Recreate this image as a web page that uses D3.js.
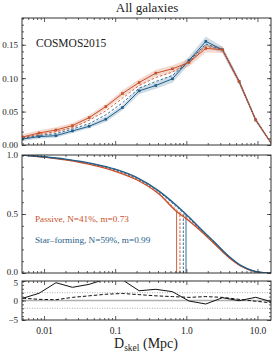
<!DOCTYPE html>
<html>
<head>
<meta charset="utf-8">
<script src="https://cdn.jsdelivr.net/npm/d3@7"></script>
<style>
  body { margin: 0; background: #fff; }
  text { font-family: "Liberation Serif", "Times New Roman", serif; fill: #222; }
</style>
</head>
<body>
<div id="chart"></div>
<script>
// Distance bins (Mpc)
const dskel = [0.005, 0.0085, 0.0147, 0.0251, 0.0431, 0.0738, 0.1265, 0.217, 0.372, 0.638, 1.09, 1.88, 3.22, 5.52, 9.46, 16.2];

// Top panel: fraction per bin
const passiveFrac = [0.012, 0.018, 0.0225, 0.029, 0.041, 0.0575, 0.077, 0.0935, 0.1075, 0.114, 0.1235, 0.1445, 0.1425, 0.095, 0.0375, 0.0];
const starFrac    = [0.009, 0.0125, 0.014, 0.021, 0.028, 0.0385, 0.056, 0.081, 0.089, 0.099, 0.1265, 0.155, 0.1425, 0.095, 0.0375, 0.0];
const passiveErr  = [0.004, 0.004, 0.004, 0.004, 0.004, 0.004, 0.005, 0.005, 0.005, 0.005, 0.006, 0.006, 0.005, 0.004, 0.003, 0.002];
const starErr     = [0.003, 0.003, 0.003, 0.003, 0.003, 0.004, 0.004, 0.005, 0.005, 0.006, 0.006, 0.007, 0.005, 0.004, 0.003, 0.002];
const passiveAlt  = [0.011, 0.016, 0.020, 0.026, 0.037, 0.051, 0.070, 0.089, 0.101, 0.109, 0.1245, 0.148, 0.1425, 0.095, 0.0375, 0.0];
const starAlt     = [0.010, 0.014, 0.017, 0.024, 0.032, 0.045, 0.063, 0.085, 0.095, 0.104, 0.1255, 0.151, 0.1425, 0.095, 0.0375, 0.0];

// Middle panel: cumulative fraction beyond D
const cumD        = [0.0049, 0.01, 0.02, 0.05, 0.1, 0.2, 0.4, 0.75, 1.0, 1.5, 2.5, 4, 6, 9, 12, 15.5];
const cumStar     = [1.0, 0.985, 0.965, 0.925, 0.88, 0.81, 0.70, 0.565, 0.495, 0.39, 0.26, 0.14, 0.06, 0.015, 0.003, 0];
const cumPassive  = [1.0, 0.982, 0.958, 0.912, 0.862, 0.79, 0.675, 0.515, 0.46, 0.37, 0.245, 0.13, 0.055, 0.013, 0.002, 0];
const cumStarAlt  = [1.0, 0.984, 0.963, 0.921, 0.875, 0.804, 0.694, 0.553, 0.486, 0.385, 0.256, 0.137, 0.058, 0.014, 0.003, 0];
const cumPassAlt  = [1.0, 0.983, 0.960, 0.916, 0.868, 0.797, 0.683, 0.528, 0.470, 0.376, 0.249, 0.133, 0.056, 0.014, 0.002, 0];
const medians     = [0.73, 0.99];
const mediansAlt  = [0.815, 0.908];

// Bottom panel: significance
const sigSolid  = [0.56, 1.85, 4.56, 3.38, 4.15, 5.5, 5.3, 2.5, 2.87, 2.26, -0.13, -0.9, 0.72, -0.05, 0.82, -0.38];
const sigDashed = [0.6, 0.3, 0.2, 0.8, 1.2, 1.6, 1.8, 1.5, 1.2, 1.0, 0.8, 1.0, 0.8, 0.3, -0.2, -0.6];

// Ticks
const xMajor = [0.01, 0.1, 1, 10];
const xLabels = ["0.01", "0.1", "1.0", "10.0"];
const yTopTicks = [0, 0.05, 0.10, 0.15];
const yMidTicks = [0, 0.5, 1.0];
const yBotTicks = [-5, 0, 5];

const orange = "#c8502a", blue = "#1f5e8a";

const svg = d3.select("#chart").append("svg")
    .attr("width", 273).attr("height", 354);

const x = d3.scaleLog().domain([0.0049, 15.5]).range([22, 271]);
const xMinor = [];
[0.001, 0.01, 0.1, 1, 10].forEach(d => {
    for (let m = 2; m <= 9; m++) {
        const v = d * m;
        if (v > x.domain()[0] && v < x.domain()[1]) xMinor.push(v);
    }
});

const yTop = d3.scaleLinear().domain([0, 0.19]).range([145, 18]);
const yMid = d3.scaleLinear().domain([0, 1]).range([273, 155]);
const yBot = d3.scaleLinear().domain([-5, 5]).range([320, 281]);

// clip paths
function clip(id, y) {
    svg.append("clipPath").attr("id", id).append("rect")
        .attr("x", x.range()[0]).attr("y", y.range()[1])
        .attr("width", x.range()[1] - x.range()[0])
        .attr("height", y.range()[0] - y.range()[1]);
}
clip("cTop", yTop); clip("cMid", yMid); clip("cBot", yBot);

// ---- top panel
const gTop = svg.append("g").attr("clip-path", "url(#cTop)");
const idx = d3.range(dskel.length);

function band(vals, err, col) {
    gTop.append("path")
        .attr("d", d3.area().x(i => x(dskel[i])).y0(i => yTop(vals[i] - err[i])).y1(i => yTop(vals[i] + err[i]))(idx))
        .attr("fill", col).attr("opacity", 0.22);
}
band(starFrac, starErr, blue);
band(passiveFrac, passiveErr, orange);

const lineTop = vals => d3.line().x(i => x(dskel[i])).y(i => yTop(vals[i]))(idx);
gTop.append("path").attr("d", lineTop(passiveAlt)).attr("fill", "none")
    .attr("stroke", orange).attr("stroke-width", 0.9).attr("stroke-dasharray", "2.5,2");
gTop.append("path").attr("d", lineTop(starAlt)).attr("fill", "none")
    .attr("stroke", blue).attr("stroke-width", 0.9).attr("stroke-dasharray", "2.5,2");
gTop.append("path").attr("d", lineTop(starFrac)).attr("fill", "none")
    .attr("stroke", blue).attr("stroke-width", 1);
gTop.append("path").attr("d", lineTop(passiveFrac)).attr("fill", "none")
    .attr("stroke", orange).attr("stroke-width", 1);

[[starFrac, blue], [passiveFrac, orange]].forEach(([vals, col]) => {
    gTop.selectAll(null).data(idx).enter().append("rect")
        .attr("x", i => x(dskel[i]) - 1.3).attr("y", i => yTop(vals[i]) - 1.3)
        .attr("width", 2.6).attr("height", 2.6).attr("fill", col);
});

svg.append("text").attr("x", 36).attr("y", 47).attr("font-size", 11.5).text("COSMOS2015");

// ---- middle panel
const gMid = svg.append("g").attr("clip-path", "url(#cMid)");
const cIdx = d3.range(cumD.length);
const lineMid = vals => d3.line().curve(d3.curveMonotoneX)
    .x(i => x(cumD[i])).y(i => yMid(vals[i]))(cIdx);

// height of a curve at D (linear in log D)
function curveAt(vals, d) {
    const ld = cumD.map(Math.log10);
    const s = d3.scaleLinear().domain(ld).range(vals);
    return s(Math.log10(d));
}

function medLine(d, vals, col, dash) {
    gMid.append("line").attr("x1", x(d)).attr("x2", x(d))
        .attr("y1", yMid(0)).attr("y2", yMid(curveAt(vals, d)))
        .attr("stroke", col).attr("stroke-width", 0.9)
        .attr("stroke-dasharray", dash ? "2.5,1.5" : null);
}
medLine(medians[0], cumPassive, orange, false);
medLine(medians[1], cumStar, blue, false);
medLine(mediansAlt[0], cumPassAlt, orange, true);
medLine(mediansAlt[1], cumStarAlt, blue, true);

gMid.append("path").attr("d", lineMid(cumPassAlt)).attr("fill", "none")
    .attr("stroke", orange).attr("stroke-width", 0.9).attr("stroke-dasharray", "2.5,1.5");
gMid.append("path").attr("d", lineMid(cumStarAlt)).attr("fill", "none")
    .attr("stroke", blue).attr("stroke-width", 0.9).attr("stroke-dasharray", "2.5,1.5");
gMid.append("path").attr("d", lineMid(cumPassive)).attr("fill", "none")
    .attr("stroke", orange).attr("stroke-width", 1.3);
gMid.append("path").attr("d", lineMid(cumStar)).attr("fill", "none")
    .attr("stroke", blue).attr("stroke-width", 1.3);

svg.append("text").attr("x", 35).attr("y", 222).attr("font-size", 9.2)
    .style("fill", orange).text("Passive, N=41%, m=0.73");
svg.append("text").attr("x", 35).attr("y", 243).attr("font-size", 9.2)
    .style("fill", blue).text("Star\u2013forming, N=59%, m=0.99");

// ---- bottom panel
const gBot = svg.append("g").attr("clip-path", "url(#cBot)");
gBot.append("line").attr("x1", 22).attr("x2", 271).attr("y1", yBot(0)).attr("y2", yBot(0))
    .attr("stroke", "#b0b0b0").attr("stroke-width", 1.5);
[-2, 2].forEach(v => gBot.append("line").attr("x1", 22).attr("x2", 271)
    .attr("y1", yBot(v)).attr("y2", yBot(v))
    .attr("stroke", "#888").attr("stroke-width", 0.7).attr("stroke-dasharray", "1,1.5"));
const lineBot = vals => d3.line().x(i => x(dskel[i])).y(i => yBot(vals[i]))(idx);
gBot.append("path").attr("d", lineBot(sigDashed)).attr("fill", "none")
    .attr("stroke", "#111").attr("stroke-width", 1).attr("stroke-dasharray", "3.5,2");
gBot.append("path").attr("d", lineBot(sigSolid)).attr("fill", "none")
    .attr("stroke", "#111").attr("stroke-width", 1);

// ---- frames and ticks
function frame(y, major, minor, fmt, showX, nudge) {
    const top = y.range()[1], bot = y.range()[0];
    const g = svg.append("g").attr("class", "axes");
    const ax = (gen, tx, ty) => g.append("g").attr("transform", `translate(${tx},${ty})`).call(gen);

    ax(d3.axisBottom(x).tickValues(xMinor).tickSize(-2).tickFormat(""), 0, bot);
    ax(d3.axisTop(x).tickValues(xMinor).tickSize(-2).tickFormat(""), 0, top);
    ax(d3.axisTop(x).tickValues(xMajor).tickSize(-4).tickFormat(""), 0, top);
    const xb = ax(d3.axisBottom(x).tickValues(xMajor).tickSize(-4)
        .tickFormat((d, i) => showX ? xLabels[i] : "").tickPadding(7), 0, bot);
    xb.selectAll("text").attr("font-size", 9.5);

    ax(d3.axisRight(y).tickValues(minor).tickSize(-2).tickFormat(""), x.range()[1], 0);
    ax(d3.axisRight(y).tickValues(major).tickSize(-4).tickFormat(""), x.range()[1], 0);
    ax(d3.axisLeft(y).tickValues(minor).tickSize(-2).tickFormat(""), x.range()[0], 0);
    const yl = ax(d3.axisLeft(y).tickValues(major).tickSize(-4).tickFormat(fmt).tickPadding(4), x.range()[0], 0);
    yl.selectAll("text").attr("font-size", 9)
        .attr("transform", (d, i) => nudge ? `translate(0,${nudge(d)})` : null);

    g.selectAll(".domain").remove();
    g.selectAll(".tick line").attr("stroke", "#333").attr("stroke-width", 0.8);
    g.append("rect").attr("x", x.range()[0]).attr("y", top)
        .attr("width", x.range()[1] - x.range()[0]).attr("height", bot - top)
        .attr("fill", "none").attr("stroke", "#333").attr("stroke-width", 1);
}

frame(yTop, yTopTicks, d3.range(0, 0.191, 0.01), d3.format(".2f"), false, null);
frame(yMid, yMidTicks, d3.range(0, 1.01, 0.1), d3.format(".1f"), false, d => d === 0 ? -1.5 : 0);
frame(yBot, yBotTicks, d3.range(-5, 5.1, 1), d => d < 0 ? "\u2212" + Math.abs(d) : String(d), true,
    d => d === 5 ? 1.5 : 0);

svg.selectAll(".axes text").style("font-family", '"Liberation Serif", serif').attr("fill", "#222");

// titles
svg.append("text").attr("x", 147).attr("y", 12).attr("text-anchor", "middle")
    .attr("font-size", 13).text("All galaxies");

const xl = svg.append("text").attr("x", 146).attr("y", 348).attr("text-anchor", "middle")
    .attr("font-size", 14);
xl.append("tspan").text("D");
xl.append("tspan").attr("font-size", 9.5).attr("dy", 2.5).text("skel");
xl.append("tspan").attr("dy", -2.5).text(" (Mpc)");
</script>
</body>
</html>
